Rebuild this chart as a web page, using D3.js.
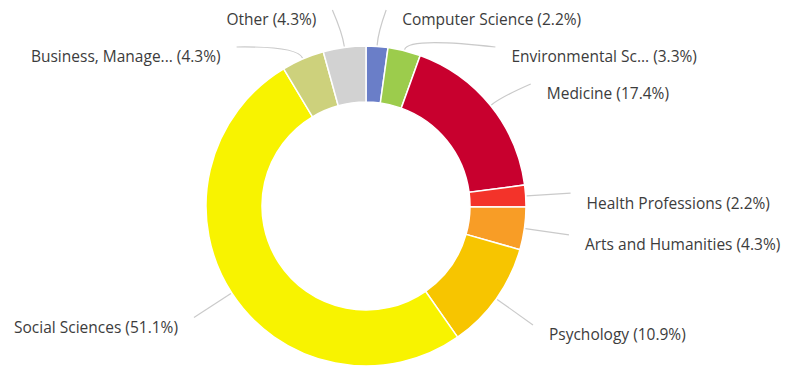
<!DOCTYPE html>
<html>
<head>
<meta charset="utf-8">
<script src="https://cdn.jsdelivr.net/npm/d3@7"></script>
<style>
  html, body { margin: 0; padding: 0; background: #fff; }
  svg { display: block; }
  text { font-family: "Open Sans", "Noto Sans", sans-serif; font-size: 15.5px; fill: #3c3c3c; }
</style>
</head>
<body>
<svg id="chart" width="788" height="367"></svg>
<script>
// Documents by subject area (share of total, %)
const categories = [
  "Computer Science",
  "Environmental Sc...",
  "Medicine",
  "Health Professions",
  "Arts and Humanities",
  "Psychology",
  "Social Sciences",
  "Business, Manage...",
  "Other"
];
const shares = [2.2, 3.3, 17.4, 2.2, 4.3, 10.9, 51.1, 4.3, 4.3];
const colors = [
  "#6a7ec8", "#9ccc4c", "#c8002e", "#f3332a", "#f89d26",
  "#f7c500", "#f8f300", "#cdd17c", "#d2d2d2"
];

const width = 788, height = 367;
const cx = 366, cy = 206;
const outerR = 160, innerR = 104;
const labelR = 205;     // radius where connectors end
const minGap = 37;      // vertical spacing between labels on one side
const topLimit = 10;

const svg = d3.select("#chart");
const g = svg.append("g").attr("transform", `translate(${cx},${cy})`);

const pie = d3.pie().sort(null).value(d => d.value);
const arc = d3.arc().innerRadius(innerR).outerRadius(outerR);

const data = categories.map((c, i) => ({ name: c, value: shares[i], color: colors[i] }));
const arcs = pie(data);

// Slices
g.selectAll("path.slice")
  .data(arcs)
  .join("path")
  .attr("class", "slice")
  .attr("d", arc)
  .attr("fill", d => d.data.color)
  .attr("stroke", "#fff")
  .attr("stroke-width", 1.5);

// Label layout: start at the natural point on a wider circle, then
// push labels apart vertically on each side.
const items = arcs.map(a => {
  const mid = (a.startAngle + a.endAngle) / 2;
  return {
    a, mid,
    side: Math.sin(mid) >= 0 ? 1 : -1,
    nx: labelR * Math.sin(mid),
    ny: -labelR * Math.cos(mid)
  };
});

[1, -1].forEach(side => {
  const list = items.filter(d => d.side === side).sort((p, q) => p.ny - q.ny);
  let prev = -Infinity;
  list.forEach(d => {
    const y = Math.max(d.ny, topLimit - cy, prev + minGap);
    const pushed = y - Math.max(d.ny, topLimit - cy) > 2;
    d.y = y;
    if (pushed && Math.abs(y) < labelR) {
      d.x = side * Math.sqrt(labelR * labelR - y * y);
    } else {
      d.x = d.nx + (y > d.ny + 2 ? side * 6 : 0);
    }
    prev = y;
  });
});

// Connectors: curve from the slice edge out to the label corner
g.selectAll("path.connector")
  .data(items)
  .join("path")
  .attr("class", "connector")
  .attr("fill", "none")
  .attr("stroke", "#cacaca")
  .attr("stroke-width", 1.2)
  .attr("d", d => {
    const sx = (outerR + 1) * Math.sin(d.mid), sy = -(outerR + 1) * Math.cos(d.mid);
    const kx = (outerR + 14) * Math.sin(d.mid), ky = -(outerR + 14) * Math.cos(d.mid);
    return `M${sx},${sy}Q${kx},${ky} ${d.x},${d.y}`;
  });

// Labels
g.selectAll("text.label")
  .data(items)
  .join("text")
  .attr("class", "label")
  .attr("x", d => d.x + d.side * 16)
  .attr("y", d => d.y + 10)
  .attr("dy", "0.35em")
  .attr("text-anchor", d => d.side > 0 ? "start" : "end")
  .text(d => `${d.a.data.name} (${d.a.data.value.toFixed(1)}%)`);
</script>
</body>
</html>
